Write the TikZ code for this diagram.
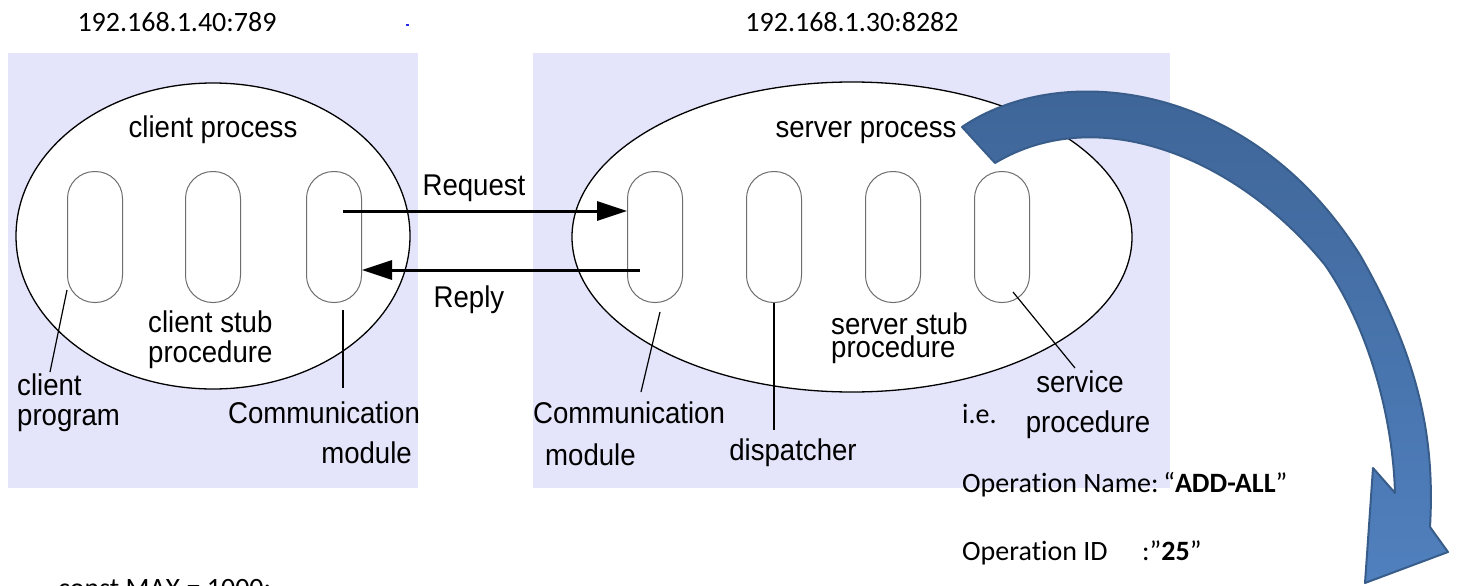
\documentclass[tikz,border=0pt]{standalone}
\usepackage{fontspec}
\setmainfont{Carlito}[Ligatures=NoCommon]
\newfontfamily\figfont[FakeStretch=0.92]{Liberation Sans}
\usetikzlibrary{shapes.geometric,arrows.meta,calc}
\definecolor{lav}{RGB}{228,228,250}
\definecolor{arrowtop}{RGB}{62,100,150}
\definecolor{arrowbot}{RGB}{80,128,190}
\definecolor{arrowedge}{RGB}{56,93,138}
\definecolor{capgray}{RGB}{110,110,110}
\definecolor{dotblue}{RGB}{40,40,230}
\begin{document}
\begin{tikzpicture}[x=1pt,y=-1pt,
  bgbox/.style={draw=none,fill=lav,inner sep=0,anchor=north west},
  proc/.style={ellipse,draw=black,line width=1.3pt,fill=white,inner sep=0},
  capsule/.style={draw=capgray,line width=1pt,fill=white,rounded corners=27pt,minimum width=55pt,minimum height=131pt,inner sep=0},
  figtxt/.style={font=\figfont\fontsize{30}{30}\selectfont,inner sep=0},
  caltxt/.style={font=\fontsize{28}{28}\selectfont,inner sep=0},
  leader/.style={draw=black,line width=1.2pt},
  msg/.style={draw=black,line width=3pt,-{Triangle[length=30pt,width=19pt]}},
]
\useasboundingbox (0,0) rectangle (1460,586);

% IP labels
\node[caltxt,anchor=base] (ipl) at (177,32) {192.168.1.40:789};
\node[caltxt,anchor=base] (ipr) at (852,32) {192.168.1.30:8282};
\fill[dotblue] (406,24) rectangle (409,26);

% backgrounds
\node[bgbox,minimum width=410pt,minimum height=435pt] (lbg) at (8,53) {};
\node[bgbox,minimum width=637pt,minimum height=435pt] (rbg) at (533,53) {};

% processes
\node[proc,minimum width=394pt,minimum height=306pt] (lproc) at (213,236) {};
\node[proc,minimum width=560pt,minimum height=310pt] (rproc) at (852,237) {};

% capsules
\node[capsule] (c1) at (95,237) {};
\node[capsule] (c2) at (213,237) {};
\node[capsule] (c3) at (334,237) {};
\node[capsule] (s1) at (655,237) {};
\node[capsule] (s2) at (774,237) {};
\node[capsule] (s3) at (893,237) {};
\node[capsule] (s4) at (1002,237) {};

% titles
\node[figtxt,anchor=base] (ltitle) at (213,137) {client process};
\node[figtxt,anchor=base] (rtitle) at (866,137) {server process};

% messages
\draw[msg] ([xshift=9pt,yshift=26pt]c3.center) -- ([yshift=26pt]s1.west);
\draw[msg] ([xshift=-15pt,yshift=-33pt]s1.center) -- ([yshift=-33pt]c3.east);
\node[figtxt,anchor=base] (req) at (474,195) {Request};
\node[figtxt,anchor=base] (rep) at (469,307) {Reply};

% left labels
\node[figtxt,anchor=base west] (cstub1) at (148,332) {client stub};
\node[figtxt,anchor=base west] (cstub2) at (148,362) {procedure};
\node[figtxt,anchor=base west] (cprog1) at (17,395) {client};
\node[figtxt,anchor=base west] (cprog2) at (17,425) {program};
\node[figtxt,anchor=base west] (lcomm1) at (228,423) {Communication};
\node[figtxt,anchor=base east] (lcomm2) at (412,463) {module};

% right labels
\node[figtxt,anchor=base west] (rcomm1) at (533,423) {Communication};
\node[figtxt,anchor=base west] (rcomm2) at (545,465) {module};
\node[figtxt,anchor=base] (disp) at (793,460) {dispatcher};
\node[figtxt,anchor=base west] (sstub1) at (831,334) {server stub};
\node[figtxt,anchor=base west] (sstub2) at (831,357) {procedure};
\node[figtxt,anchor=base] (serv1) at (1080,392) {service};
\node[figtxt,anchor=base] (serv2) at (1088,432) {procedure};

% leader ends
\coordinate (cpend) at (50,372);
\coordinate (lcend) at (343,388);
\coordinate (rcend) at (641,392);
\coordinate (dend) at (774,430);
\coordinate (svend) at (1075,368);

\draw[leader] ([yshift=-53pt]c1.west) -- (cpend);
\draw[leader] ([xshift=9pt,yshift=-73pt]c3.center) -- (lcend);
\draw[leader] ([xshift=5pt,yshift=-75pt]s1.center) -- (rcend);
\draw[leader] (s2.south) -- (dend);
\draw[leader] ([xshift=11pt,yshift=-55pt]s4.center) -- (svend);

% calibri texts
\node[caltxt,anchor=base west] (ie) at (962,423) {i.e.};
\node[caltxt,anchor=base west] (opname) at (962,492) {Operation Name:\,“\textbf{ADD-ALL}”};
\node[caltxt,anchor=base west] (opid) at (962,560) {Operation ID};
\node[caltxt,anchor=base west] (opidv) at (1142,560) {:”\textbf{25}”};
\node[caltxt,anchor=base west] (cmax) at (58,597) {const MAX = 1000;};

% big curved arrow
\path[draw=arrowedge,line width=2pt,top color=arrowtop,bottom color=arrowbot,line join=round]
  (962,127) .. controls (1060,60) and (1250,80) .. (1360,255)
  .. controls (1420,360) and (1435,440) .. (1430,527)
  -- (1448,552) -- (1365,583) -- (1373,468) -- (1395,493)
  .. controls (1393,420) and (1370,330) .. (1325,265)
  .. controls (1240,160) and (1100,100) .. (995,163) -- cycle;
\end{tikzpicture}
\end{document}
